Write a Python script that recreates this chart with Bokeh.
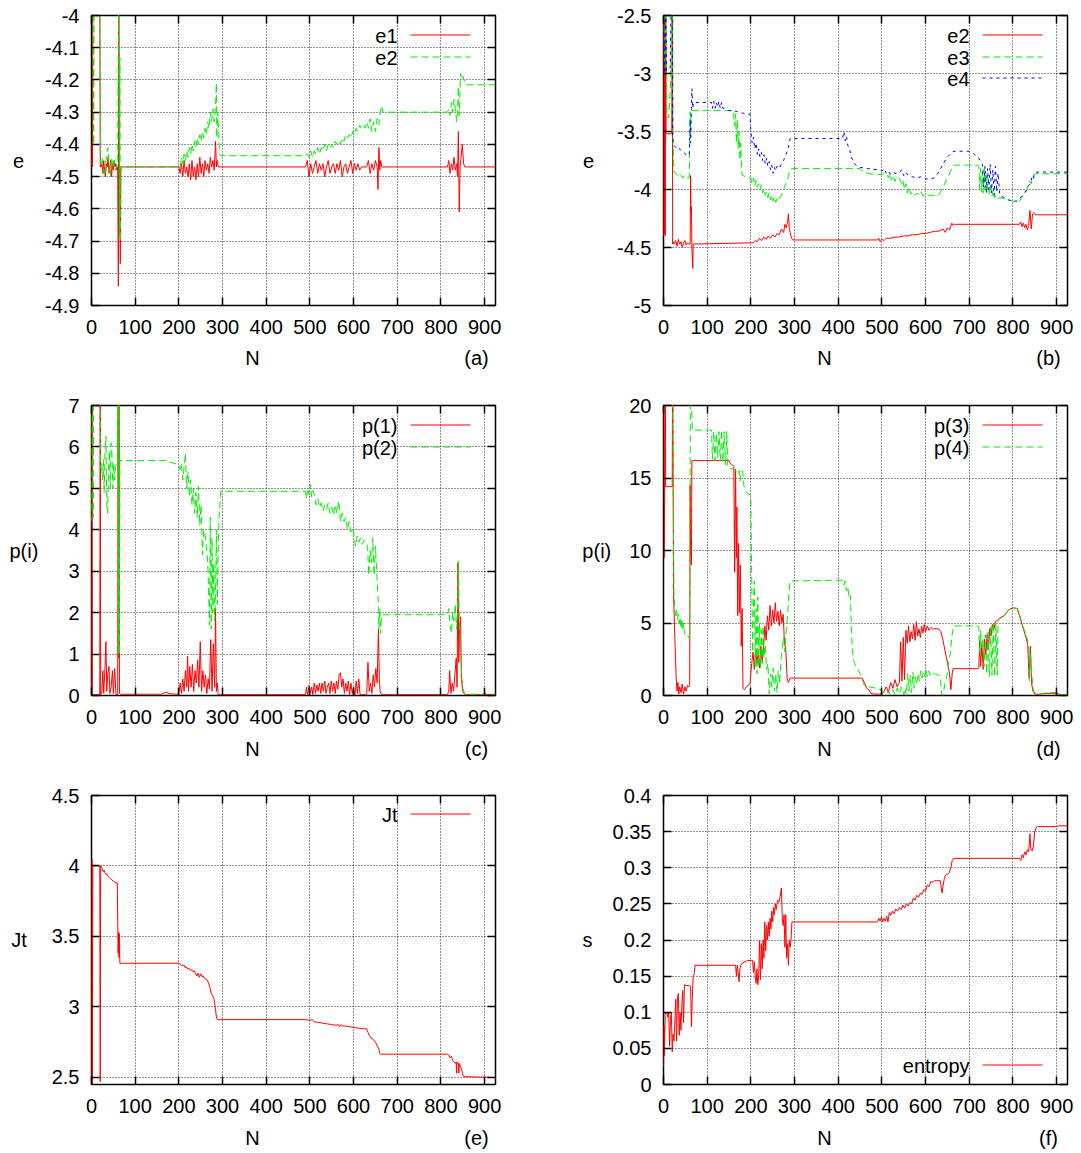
from bokeh.plotting import figure
from bokeh.layouts import column, row
from bokeh.models import Range1d, FixedTicker, PrintfTickFormatter, LinearAxis, Label, Arrow
from bokeh.embed import file_html
from bokeh.resources import INLINE

# ---------------- data ----------------
X_TICKS = [0, 100, 200, 300, 400, 500, 600, 700, 800, 900]
A_TICKS = [-4.9, -4.8, -4.7, -4.6, -4.5, -4.4, -4.3, -4.2, -4.1, -4.0]
B_TICKS = [-5.0, -4.5, -4.0, -3.5, -3.0, -2.5]
C_TICKS = [0, 1, 2, 3, 4, 5, 6, 7]
D_TICKS = [0, 5, 10, 15, 20]
E_TICKS = [2.5, 3.0, 3.5, 4.0, 4.5]
F_TICKS = [0, 0.05, 0.1, 0.15, 0.2, 0.25, 0.3, 0.35, 0.4]

# (a) e1
a_e1_x = [0, 1, 2, 3, 19, 20, 22, 24, 26, 28, 30, 32, 34, 36, 38, 40, 42, 44, 46, 48, 50, 52, 54, 56, 58,
          60, 61.5, 62.5, 64, 66, 67, 200, 203, 206, 209, 212, 215, 218, 221, 224, 227, 230, 233, 236, 239,
          242, 245, 248, 251, 254, 257, 260, 263, 266, 269, 272, 275, 278, 281, 284, 286, 288, 290, 293,
          490, 494, 498, 502, 506, 510, 514, 518, 522, 526, 530, 534, 538, 542, 546, 550, 554, 558, 562,
          566, 570, 574, 578, 582, 586, 590, 594, 598, 602, 606, 610, 614, 618, 630, 634, 638, 642, 646,
          650, 654, 656, 658, 660, 662, 665, 815, 818, 821, 824, 827, 830, 833, 836, 838, 840, 842, 844,
          846, 849, 852, 855, 860, 925]
a_e1_y = [-4.47, -4.39, -4.47, -3.9, -3.9, -4.47, -4.47, -4.46, -4.49, -4.45, -4.48, -4.5, -4.46, -4.47,
          -4.44, -4.49, -4.47, -4.45, -4.5, -4.46, -4.48, -4.45, -4.47, -4.46, -4.48,
          -4.47, -4.84, -3.9, -4.47, -4.77, -4.47, -4.47, -4.49, -4.46, -4.5, -4.45, -4.49, -4.47, -4.5,
          -4.46, -4.51, -4.45, -4.5, -4.47, -4.51, -4.46, -4.5, -4.44, -4.49, -4.46, -4.5, -4.45, -4.48,
          -4.46, -4.49, -4.44, -4.47, -4.45, -4.48, -4.39, -4.47, -4.45, -4.47, -4.47,
          -4.47, -4.45, -4.5, -4.46, -4.49, -4.47, -4.45, -4.49, -4.46, -4.48, -4.46, -4.5, -4.47, -4.45,
          -4.49, -4.47, -4.46, -4.49, -4.46, -4.48, -4.45, -4.5, -4.47, -4.46, -4.49, -4.47, -4.45, -4.49,
          -4.46, -4.48, -4.46, -4.48, -4.47, -4.47, -4.45, -4.49, -4.46, -4.48, -4.45, -4.47, -4.54, -4.41,
          -4.48, -4.45, -4.47, -4.47, -4.45, -4.49, -4.46, -4.48, -4.44, -4.48, -4.46, -4.5, -4.36, -4.61,
          -4.47, -4.44, -4.4, -4.46, -4.47, -4.47, -4.47]
# (a) e2
a_e2_x = [0, 4, 5, 6, 19, 21, 24, 27, 30, 33, 36, 38, 40, 43, 46, 49, 52, 55, 58, 60, 62, 64, 65, 66, 68,
          190, 200, 203, 206, 209, 212, 215, 218, 221, 224, 227, 230, 233, 236, 239, 242, 245, 248, 251,
          254, 257, 260, 263, 266, 269, 272, 275, 278, 281, 284, 286, 287, 289, 291, 293, 296, 490, 494,
          498, 502, 506, 510, 514, 518, 522, 526, 530, 534, 538, 542, 546, 550, 554, 558, 562, 566, 570,
          574, 578, 582, 586, 590, 594, 598, 602, 606, 610, 614, 618, 622, 626, 630, 634, 638, 642, 646,
          650, 654, 658, 661, 664, 667, 815, 818, 821, 824, 827, 830, 833, 836, 838, 840, 842, 845, 848,
          851, 855, 858, 925]
a_e2_y = [-3.9, -3.9, -4.4, -3.9, -3.9, -4.46, -4.44, -4.48, -4.5, -4.45, -4.42, -4.41, -4.46, -4.5, -4.44,
          -4.47, -4.45, -4.48, -4.47, -4.45, -3.9, -4.68, -4.13, -4.7, -4.47,
          -4.47, -4.465, -4.47, -4.44, -4.46, -4.43, -4.45, -4.42, -4.44, -4.41, -4.43, -4.4, -4.42, -4.39,
          -4.41, -4.38, -4.4, -4.37, -4.39, -4.36, -4.38, -4.35, -4.37, -4.33, -4.35, -4.3, -4.33, -4.29,
          -4.33, -4.28, -4.21, -4.38, -4.3, -4.36, -4.43, -4.435, -4.435, -4.43,
          -4.44, -4.42, -4.44, -4.42, -4.43, -4.41, -4.43, -4.41, -4.42, -4.4, -4.42, -4.4, -4.41, -4.4,
          -4.41, -4.39, -4.4, -4.39, -4.4, -4.38, -4.39, -4.37, -4.38, -4.37, -4.38, -4.36, -4.37, -4.35,
          -4.36, -4.34, -4.35, -4.34, -4.35, -4.33, -4.35, -4.32, -4.36, -4.33, -4.36, -4.32, -4.34, -4.3,
          -4.28, -4.3, -4.3, -4.29, -4.31, -4.27, -4.3, -4.26, -4.29, -4.33, -4.3, -4.22, -4.31, -4.18,
          -4.2, -4.19, -4.21, -4.215, -4.215]

# (b) e2
b_e2_x = [0, 1, 2, 3, 4, 5, 6, 19, 20, 21, 22, 25, 28, 31, 34, 37, 40, 43, 46, 49, 52, 55, 58, 61, 62, 63,
          64, 65, 67, 68, 200, 205, 210, 215, 220, 225, 230, 235, 240, 245, 250, 255, 260, 265, 270, 275,
          278, 281, 284, 286, 288, 290, 293, 296, 490, 493, 496, 500, 505, 510, 520, 530, 540, 550, 560,
          570, 580, 590, 600, 610, 620, 630, 635, 640, 645, 650, 655, 660, 663, 666, 815, 818, 821, 824,
          827, 830, 833, 836, 839, 842, 845, 848, 852, 855, 925]
b_e2_y = [-4.4, -2.3, -4.38, -2.3, -4.4, -2.3, -3.52, -3.52, -2.3, -4.47, -4.45, -4.47, -4.44, -4.49,
          -4.43, -4.47, -4.45, -4.5, -4.46, -4.44, -4.48, -4.46, -4.47, -4.47, -3.88, -4.2, -4.15, -4.5,
          -4.68, -4.47, -4.46, -4.46, -4.44, -4.45, -4.42, -4.44, -4.41, -4.43, -4.4, -4.42, -4.39, -4.41,
          -4.38, -4.39, -4.34, -4.37, -4.3, -4.33, -4.28, -4.21, -4.33, -4.37, -4.42, -4.435, -4.435,
          -4.42, -4.45, -4.43, -4.44, -4.42, -4.42, -4.41, -4.41, -4.4, -4.4, -4.39, -4.39, -4.38, -4.38,
          -4.37, -4.36, -4.36, -4.35, -4.34, -4.37, -4.33, -4.35, -4.29, -4.31, -4.3, -4.3, -4.28, -4.32,
          -4.29, -4.33, -4.3, -4.35, -4.31, -4.18, -4.34, -4.21, -4.2, -4.22, -4.218, -4.218]
# (b) e3
b_e3_x = [0, 3, 5, 8, 12, 16, 19, 21, 22, 24, 28, 32, 36, 40, 44, 48, 52, 56, 59, 60, 61, 62, 63, 65, 160,
          163, 165, 167, 169, 171, 173, 175, 177, 179, 181, 200, 203, 206, 209, 212, 215, 218, 221, 224,
          227, 230, 233, 236, 239, 242, 245, 248, 251, 254, 257, 260, 263, 266, 270, 275, 280, 285, 290,
          293, 450, 455, 460, 470, 480, 500, 510, 515, 518, 522, 526, 530, 535, 540, 545, 548, 552, 555,
          558, 562, 566, 570, 575, 580, 585, 590, 595, 600, 605, 630, 640, 650, 660, 665, 720, 722, 724,
          726, 728, 730, 732, 734, 736, 738, 740, 743, 746, 749, 752, 755, 758, 762, 766, 770, 780, 790,
          800, 810, 815, 820, 825, 830, 835, 838, 842, 845, 848, 852, 925]
b_e3_y = [-2.3, -3.0, -2.3, -3.38, -3.38, -3.1, -2.3, -2.3, -3.6, -3.85, -3.86, -3.88, -3.86, -3.88, -3.9,
          -3.88, -3.9, -3.9, -3.9, -3.6, -3.33, -3.55, -3.32, -3.32, -3.32,
          -3.45, -3.35, -3.6, -3.4, -3.65, -3.5, -3.75, -3.6, -3.85, -3.88, -3.9, -3.95, -3.9, -3.97, -3.92,
          -3.98, -3.95, -4.0, -3.96, -4.03, -3.99, -4.05, -4.02, -4.07, -4.03, -4.09, -4.05, -4.1, -4.06,
          -4.11, -4.08, -4.1, -4.07, -4.05, -4.0, -3.95, -3.9, -3.83,
          -3.82, -3.82, -3.84, -3.85, -3.86, -3.87, -3.87, -3.86, -3.9, -3.86, -3.92, -3.88, -3.93, -3.89,
          -3.9, -3.95, -3.92, -4.0, -3.95, -4.03, -3.98, -4.04, -4.02, -4.05, -4.03, -4.05, -4.02, -4.06,
          -4.04, -4.05, -4.05, -3.98, -3.9, -3.82, -3.79, -3.79, -3.8, -4.0, -3.82, -4.02, -3.85, -4.03,
          -3.82, -4.0, -3.86, -4.04, -3.9, -4.05, -3.95, -4.06, -4.0, -4.07, -4.05, -4.08, -4.07, -4.08,
          -4.09, -4.1, -4.11, -4.1, -4.07, -4.05, -4.02, -3.97, -3.93, -3.95, -3.9, -3.87, -3.865, -3.865]
# (b) e4
b_e4_x = [0, 3, 5, 7, 15, 18, 20, 21, 23, 27, 31, 35, 39, 43, 47, 51, 55, 59, 61, 62, 64, 65, 67, 69, 110,
          112, 115, 118, 121, 124, 127, 130, 133, 136, 140, 150, 160, 170, 180, 190, 198, 200, 203, 206,
          209, 212, 215, 218, 221, 224, 227, 230, 233, 236, 239, 242, 245, 248, 251, 254, 257, 260, 265,
          270, 275, 280, 285, 290, 410, 413, 416, 419, 422, 426, 430, 435, 440, 450, 470, 490, 500, 505,
          510, 515, 520, 525, 530, 540, 545, 550, 555, 560, 570, 580, 590, 600, 610, 620, 630, 640, 650,
          660, 665, 700, 710, 720, 725, 730, 733, 736, 739, 742, 745, 748, 751, 754, 757, 760, 763, 766,
          770, 780, 790, 800, 810, 820, 830, 835, 840, 843, 846, 850, 855, 925]
b_e4_y = [-2.3, -3.0, -2.3, -3.0, -3.0, -2.3, -2.3, -3.55, -3.62, -3.63, -3.65, -3.64, -3.66, -3.67, -3.68,
          -3.7, -3.69, -3.7, -3.4, -3.6, -3.3, -3.13, -3.3, -3.25, -3.25,
          -3.3, -3.24, -3.3, -3.25, -3.29, -3.24, -3.3, -3.25, -3.3, -3.3, -3.32, -3.32, -3.33, -3.34,
          -3.35, -3.35, -3.5, -3.6, -3.55, -3.65, -3.6, -3.7, -3.65, -3.72, -3.68, -3.75, -3.7, -3.78,
          -3.73, -3.8, -3.76, -3.83, -3.79, -3.86, -3.81, -3.84, -3.8, -3.82, -3.78, -3.75, -3.7, -3.65,
          -3.56, -3.56, -3.5, -3.58, -3.54, -3.62, -3.65, -3.72, -3.76, -3.79, -3.81, -3.82, -3.83, -3.84,
          -3.82, -3.86, -3.84, -3.87, -3.85, -3.86, -3.86, -3.83, -3.88, -3.85, -3.88, -3.89, -3.9, -3.89,
          -3.91, -3.91, -3.9, -3.85, -3.78, -3.72, -3.68, -3.67, -3.67, -3.69, -3.72, -3.75, -3.78, -3.98,
          -3.8, -4.02, -3.82, -4.0, -3.78, -4.03, -3.83, -4.05, -3.8, -4.02, -3.86, -4.05, -4.07, -4.09,
          -4.1, -4.1, -4.06, -4.01, -3.97, -3.95, -3.9, -3.92, -3.86, -3.85, -3.85]

# (c) p(1)
c_p1_x = [0, 1, 2, 19, 20, 21, 24, 26, 28, 31, 33, 35, 37, 40, 42, 45, 48, 50, 53, 56, 60, 61, 62, 63, 64,
          66, 160, 170, 180, 200, 203, 206, 209, 212, 215, 218, 220, 222, 225, 228, 231, 234, 237, 240,
          243, 246, 249, 252, 255, 258, 261, 264, 267, 270, 273, 276, 279, 282, 284, 286, 288, 290, 490,
          492, 495, 498, 501, 504, 507, 510, 513, 516, 519, 522, 525, 528, 531, 534, 537, 540, 543, 546,
          549, 552, 555, 558, 561, 564, 567, 570, 573, 576, 579, 582, 585, 588, 591, 594, 597, 600, 603,
          606, 609, 612, 615, 630, 633, 636, 639, 642, 645, 648, 651, 654, 657, 659, 661, 664, 815, 818,
          820, 823, 826, 829, 832, 835, 837, 839, 841, 843, 845, 847, 850, 855, 895, 900, 905, 925]
c_p1_y = [0, 8, 0.02, 0.02, 8, 0.02, 0.1, 0.6, 0.05, 0.7, 1.3, 0.1, 0.5, 0.7, 0.05, 0.2, 0.6, 0.05, 0.65,
          0.02, 0.02, 8, 0.9, 8, 0.05, 0.03, 0.03, 0.08, 0.04, 0.03, 0.3, 0.05, 0.4, 0.1, 0.6, 0.2, 0.95,
          0.1, 0.7, 0.2, 0.75, 0.1, 0.6, 0.3, 0.85, 0.2, 1.3, 0.1, 0.6, 0.2, 0.5, 0.05, 0.4, 0.15, 1.35,
          0.1, 1.25, 0.2, 2.1, 0.1, 0.3, 0.02, 0.02, 0.2, 0.02, 0.25, 0.05, 0.2, 0.02, 0.3, 0.05, 0.25,
          0.1, 0.3, 0.05, 0.3, 0.1, 0.35, 0.05, 0.2, 0.3, 0.05, 0.35, 0.1, 0.3, 0.05, 0.35, 0.15, 0.5,
          0.55, 0.2, 0.4, 0.05, 0.3, 0.1, 0.35, 0.02, 0.3, 0.05, 0.2, 0.0, 0.35, 0.05, 0.4, 0.02, 0.02,
          0.8, 0.1, 0.3, 0.05, 0.5, 0.2, 0.65, 0.3, 1.6, 0.4, 0.1, 0.02, 0.02, 0.1, 0.6, 0.05, 0.3, 0.1,
          0.5, 0.9, 0.2, 3.2, 0.8, 1.6, 1.9, 0.4, 0.1, 0.02, 0.02, 0.05, 0.02, 0.02]
# (c) p(2)
c_p2_x = [0, 1, 3, 4, 5, 19, 21, 23, 25, 27, 29, 31, 33, 35, 37, 39, 41, 43, 45, 47, 49, 51, 53, 55, 57,
          59, 61, 62, 63, 64, 65, 170, 175, 180, 190, 200, 203, 206, 209, 212, 215, 218, 221, 224, 227,
          230, 233, 236, 239, 242, 245, 248, 251, 254, 257, 260, 263, 266, 268, 270, 272, 274, 276, 278,
          280, 282, 284, 286, 288, 290, 292, 294, 296, 490, 492, 495, 498, 501, 504, 507, 510, 514, 518,
          522, 526, 530, 534, 538, 542, 546, 550, 554, 558, 562, 566, 570, 574, 578, 582, 586, 590, 594,
          598, 602, 605, 608, 612, 616, 620, 624, 628, 632, 635, 638, 641, 644, 647, 650, 653, 656, 658,
          660, 662, 664, 815, 818, 821, 824, 827, 830, 833, 836, 838, 840, 842, 845, 848, 851, 855, 895,
          900, 905, 925]
c_p2_y = [4.2, 8, 8, 4.3, 8, 8, 5.5, 5.6, 5.2, 5.7, 4.9, 5.9, 6.25, 4.6, 4.4, 5.5, 5.9, 5.0, 6.1, 5.8,
          5.0, 5.6, 5.2, 5.5, 5.6, 5.7, 8, 1.0, 8, 1.0, 5.67, 5.67, 5.68, 5.63, 5.6, 5.57, 5.45, 5.6, 5.2,
          5.5, 5.85, 5.0, 5.4, 4.8, 5.2, 4.6, 5.0, 4.4, 4.9, 4.3, 5.05, 4.1, 4.6, 3.4, 4.0, 3.9, 3.6, 3.2,
          2.6, 1.7, 4.3, 1.6, 3.8, 2.0, 3.2, 1.8, 2.5, 4.0, 2.2, 3.5, 4.3, 4.6, 4.93, 4.93, 4.75, 5.0,
          4.85, 5.1, 4.8, 4.95, 4.85, 4.6, 4.75, 4.55, 4.65, 4.45, 4.6, 4.5, 4.65, 4.4, 4.55, 4.35, 4.6,
          4.4, 4.7, 4.2, 4.4, 4.2, 4.3, 4.0, 4.2, 3.95, 4.05, 3.8, 3.6, 3.85, 3.7, 3.8, 3.65, 3.75, 3.7,
          3.6, 2.9, 3.5, 3.2, 3.8, 2.9, 3.6, 3.0, 2.4, 1.6, 2.1, 1.5, 1.95, 1.95, 2.1, 1.7, 1.5, 2.0, 1.8,
          2.2, 1.6, 2.0, 3.25, 1.9, 1.2, 0.4, 0.15, 0.03, 0.03, 0.07, 0.03, 0.03]

# (d) p(3)
d_p3_x = [0, 2, 4, 5, 20, 21, 23, 25, 27, 29, 31, 33, 35, 37, 40, 43, 46, 49, 52, 55, 58, 60, 61, 62, 64,
          65, 150, 153, 158, 161, 163, 165, 167, 168, 170, 172, 174, 176, 178, 180, 182, 185, 190, 198,
          202, 205, 208, 211, 214, 217, 220, 223, 226, 229, 232, 235, 238, 241, 244, 247, 250, 253, 256,
          259, 262, 265, 268, 271, 274, 277, 280, 283, 286, 290, 455, 460, 465, 470, 475, 480, 500, 505,
          510, 515, 520, 525, 530, 535, 540, 543, 546, 549, 552, 555, 558, 561, 564, 567, 570, 573, 576,
          579, 582, 585, 588, 591, 594, 597, 600, 604, 608, 612, 616, 630, 635, 640, 645, 650, 655, 658,
          661, 663, 720, 722, 724, 726, 729, 732, 735, 738, 741, 744, 747, 750, 753, 756, 760, 765, 770,
          780, 790, 800, 810, 815, 820, 825, 830, 834, 837, 840, 843, 846, 850, 860, 870, 880, 890, 900,
          910, 925]
d_p3_y = [25, 9.5, 25, 14.4, 14.4, 25, 7.0, 5.0, 3.0, 1.2, 0.3, 0.9, 0.1, 0.6, 0.2, 0.8, 0.1, 0.6, 0.3,
          0.7, 0.6, 0.7, 14.5, 10, 9.0, 16.2, 16.2, 16.0, 15.9, 15.8, 8.5, 15.6, 9.5, 13, 5.5, 10.5, 5.7,
          9.0, 3.4, 6.0, 0.5, 0.4, 0.6, 0.8, 2.2, 3.0, 1.8, 3.2, 2.2, 3.0, 1.9, 3.4, 2.3, 3.2, 4.8, 3.8,
          5.5, 4.5, 6.2, 4.8, 5.9, 5.0, 6.4, 5.1, 5.8, 4.8, 5.9, 5.0, 5.6, 3.6, 3.2, 1.2, 0.9, 1.2, 1.2,
          0.9, 0.5, 0.4, 0.15, 0.1, 0.1, 0.3, 0.6, 0.2, 0.9, 0.5, 1.1, 0.6, 0.9, 3.7, 1.0, 4.0, 1.1, 4.5,
          3.6, 4.8, 3.7, 4.4, 3.9, 4.9, 3.8, 5.1, 4.1, 4.6, 4.0, 4.8, 4.3, 4.9, 4.4, 4.8, 4.5, 4.7, 4.6,
          4.6, 4.4, 3.8, 3.0, 2.3, 1.5, 0.4, 1.5, 1.85, 1.85, 1.9, 3.8, 2.0, 3.5, 1.8, 3.9, 2.8, 4.2, 3.2,
          4.6, 4.1, 4.9, 4.5, 5.1, 5.2, 5.35, 5.5, 5.9, 6.05, 6.0, 5.5, 5.0, 4.5, 4.0, 3.5, 1.2, 3.4, 0.8,
          0.3, 0.1, 0.08, 0.12, 0.15, 0.15, 0.15, 0.04, 0.04]
# (d) p(4)
d_p4_x = [0, 20, 22, 24, 26, 28, 30, 32, 34, 36, 38, 40, 42, 44, 46, 48, 50, 53, 56, 58, 60, 62, 64, 66,
          110, 112, 115, 118, 121, 124, 127, 130, 133, 136, 139, 142, 145, 147, 150, 160, 165, 170, 173,
          175, 178, 181, 184, 187, 190, 200, 202, 204, 206, 208, 210, 212, 214, 216, 218, 220, 222, 224,
          226, 228, 230, 233, 236, 239, 242, 245, 248, 251, 254, 257, 260, 263, 266, 269, 272, 275, 278,
          281, 284, 287, 290, 410, 413, 416, 419, 422, 425, 428, 431, 434, 437, 440, 445, 450, 455, 460,
          465, 470, 480, 490, 500, 505, 510, 515, 520, 525, 530, 535, 540, 545, 550, 553, 556, 559, 562,
          565, 568, 571, 574, 577, 580, 583, 586, 589, 592, 595, 598, 601, 604, 607, 610, 615, 620, 625,
          630, 634, 637, 640, 644, 648, 652, 656, 660, 664, 720, 722, 724, 726, 728, 731, 734, 737, 740,
          743, 746, 749, 752, 755, 758, 761, 764, 766, 770, 780, 790, 800, 810, 815, 820, 825, 830, 833,
          836, 838, 840, 843, 846, 850, 860, 870, 880, 890, 900, 910, 925]
d_p4_y = [25, 25, 14.0, 7.0, 6.0, 5.5, 5.9, 5.2, 5.6, 5.0, 5.4, 4.6, 5.3, 4.5, 5.0, 4.3, 4.2, 4.0, 4.1,
          4.0, 4.2, 25, 20.5, 18.3, 18.3, 16.3, 18.2, 16.2, 18.1, 16.4, 18.2, 16.2, 18.3, 16.1, 18.2,
          15.9, 18.2, 15.8, 15.7, 15.6, 15.5, 15.3, 15.5, 14.8, 15.4, 15.5, 14.5, 14.1, 14.0, 13.8, 8.0,
          3.0, 6.5, 7.9, 2.0, 6.0, 1.5, 6.8, 2.0, 5.0, 1.8, 4.5, 2.2, 4.8, 2.6, 3.5, 1.8, 2.2, 0.1, 1.5,
          0.6, 1.9, 0.3, 1.5, 0.2, 1.7, 0.8, 2.5, 3.3, 4.0, 3.0, 4.5, 5.5, 7.0, 7.9, 7.95, 7.6, 7.9, 7.2,
          7.5, 6.7, 6.9, 4.0, 2.5, 2.3, 2.0, 1.8, 1.5, 1.1, 0.7, 0.6, 0.6, 0.55, 0.45, 0.35, 0.2, 0.05,
          0.3, 0.02, 0.4, 0.05, 0.5, 0.1, 0.6, 0.05, 0.5, 0.0, 1.5, 0.3, 1.4, 0.2, 1.6, 0.5, 1.3, 0.9,
          1.5, 1.0, 1.7, 1.2, 1.6, 1.3, 1.85, 1.3, 1.7, 1.4, 1.6, 1.5, 1.45, 1.4, 1.3, 0.1, 0.0, 0.8, 1.2,
          2.0, 2.8, 4.0, 4.8, 4.8, 4.6, 2.8, 4.5, 3.2, 4.0, 2.0, 4.2, 1.5, 4.5, 1.3, 4.8, 1.4, 5.0, 1.3,
          4.9, 1.4, 5.2, 5.3, 5.5, 5.9, 6.05, 6.0, 5.6, 5.0, 4.6, 4.2, 3.9, 3.2, 1.0, 3.0, 1.5, 0.5, 0.15,
          0.1, 0.15, 0.2, 0.2, 0.22, 0.05, 0.05]

# (e) Jt
e_jt_x = [0, 1, 2, 3, 19, 20, 21, 23, 25, 27, 29, 31, 33, 35, 37, 40, 43, 46, 50, 53, 56, 59, 60, 61, 62,
          63, 64, 65, 200, 205, 208, 211, 214, 217, 220, 223, 226, 229, 232, 235, 238, 241, 244, 247, 250,
          253, 256, 259, 262, 265, 268, 271, 274, 277, 280, 282, 284, 286, 288, 490, 500, 505, 510, 520,
          530, 540, 550, 560, 565, 568, 571, 575, 580, 590, 600, 610, 620, 630, 633, 636, 640, 645, 650,
          655, 658, 660, 662, 815, 818, 821, 824, 827, 830, 833, 835, 836, 837, 840, 841, 842, 845, 848,
          851, 855, 925]
e_jt_y = [2.45, 4.05, 2.45, 4.0, 4.0, 2.47, 4.0, 3.99, 3.98, 3.96, 3.97, 3.95, 3.94, 3.945, 3.93, 3.92,
          3.91, 3.905, 3.89, 3.885, 3.88, 3.88, 3.6, 3.38, 3.53, 3.35, 3.52, 3.31, 3.31, 3.3, 3.29, 3.3,
          3.28, 3.285, 3.27, 3.275, 3.26, 3.265, 3.25, 3.255, 3.24, 3.22, 3.24, 3.21, 3.235, 3.215, 3.22,
          3.2, 3.2, 3.19, 3.17, 3.14, 3.1, 3.08, 3.06, 3.03, 2.98, 2.93, 2.91, 2.91, 2.905, 2.91, 2.895,
          2.89, 2.885, 2.88, 2.875, 2.87, 2.875, 2.86, 2.875, 2.865, 2.865, 2.86, 2.855, 2.85, 2.845,
          2.845, 2.82, 2.8, 2.78, 2.77, 2.75, 2.72, 2.7, 2.67, 2.665, 2.665, 2.66, 2.64, 2.65, 2.62, 2.61,
          2.6, 2.61, 2.53, 2.61, 2.6, 2.53, 2.6, 2.58, 2.55, 2.51, 2.505, 2.5]

# (f) entropy
f_s_x = [0, 1, 2, 3, 4, 6, 8, 10, 12, 14, 16, 18, 20, 22, 24, 26, 28, 30, 32, 34, 36, 38, 40, 42, 44, 46,
         48, 52, 58, 62, 64, 66, 68, 70, 72, 165, 167, 169, 171, 173, 175, 177, 180, 190, 200, 204, 206,
         208, 210, 212, 214, 216, 218, 220, 222, 224, 226, 228, 230, 232, 234, 236, 238, 240, 242, 244,
         246, 248, 250, 252, 254, 256, 258, 261, 264, 267, 270, 272, 274, 276, 278, 280, 282, 284, 286,
         288, 290, 292, 294, 490, 493, 496, 499, 502, 505, 508, 511, 514, 517, 520, 524, 528, 532, 536,
         540, 544, 548, 552, 556, 560, 564, 568, 572, 576, 580, 584, 588, 592, 596, 600, 604, 608, 612,
         616, 620, 634, 636, 638, 640, 643, 646, 650, 654, 658, 661, 664, 815, 818, 821, 824, 827, 830,
         833, 836, 839, 841, 844, 847, 850, 853, 856, 900, 905, 925]
f_s_y = [0.024, 0.082, 0.04, 0.07, 0.1, 0.098, 0.1, 0.093, 0.1, 0.053, 0.09, 0.1, 0.045, 0.07, 0.06,
         0.088, 0.118, 0.06, 0.12, 0.126, 0.068, 0.1, 0.075, 0.11, 0.13, 0.085, 0.138, 0.137, 0.137,
         0.136, 0.08, 0.12, 0.15, 0.152, 0.165, 0.165, 0.15, 0.165, 0.155, 0.142, 0.16, 0.165, 0.168,
         0.171, 0.172, 0.172, 0.155, 0.17, 0.15, 0.14, 0.16, 0.138, 0.15, 0.2, 0.145, 0.195, 0.16, 0.2,
         0.175, 0.225, 0.185, 0.22, 0.2, 0.225, 0.205, 0.23, 0.215, 0.24, 0.225, 0.245, 0.235, 0.25,
         0.242, 0.255, 0.252, 0.26, 0.272, 0.23, 0.22, 0.235, 0.19, 0.235, 0.175, 0.195, 0.165, 0.2,
         0.19, 0.2, 0.225, 0.225, 0.23, 0.226, 0.232, 0.225, 0.23, 0.226, 0.233, 0.225, 0.238, 0.234,
         0.24, 0.236, 0.243, 0.24, 0.245, 0.242, 0.248, 0.244, 0.25, 0.247, 0.252, 0.25, 0.258, 0.255,
         0.262, 0.259, 0.265, 0.263, 0.27, 0.268, 0.276, 0.274, 0.281, 0.28, 0.282, 0.282, 0.272, 0.265,
         0.275, 0.285, 0.29, 0.291, 0.293, 0.3, 0.31, 0.313, 0.313, 0.31, 0.318, 0.314, 0.322, 0.318,
         0.325, 0.322, 0.347, 0.326, 0.323, 0.33, 0.35, 0.355, 0.357, 0.357, 0.358, 0.358]

# ---------------- styling ----------------
FONT = "Liberation Sans"
FS = "20px"
RED, GREEN, BLUE = "#ff0000", "#00ee00", "#0000ff"
DASH_G, DASH_B = "7 4", "3 4"
FW = 404
LEFT = 91
BOTTOM = 40


def make_panel(yr, yticks, ylabel, ylab_standoff, series, legend, right_border, top_border, fh,
               legend_bottom=False):
    p = figure(width=LEFT + FW + right_border, height=top_border + fh + BOTTOM,
               x_range=Range1d(0, 925), y_range=Range1d(*yr),
               output_backend="svg", toolbar_location=None,
               min_border_left=LEFT, min_border_right=right_border,
               min_border_top=top_border, min_border_bottom=BOTTOM)
    p.background_fill_color = "white"
    p.border_fill_color = "white"
    p.outline_line_color = "black"
    p.outline_line_width = 1.5
    p.xaxis.ticker = FixedTicker(ticks=X_TICKS)
    p.yaxis.ticker = FixedTicker(ticks=yticks)
    p.yaxis.formatter = PrintfTickFormatter(format="%g")
    for ax in (p.xaxis[0], p.yaxis[0]):
        ax.axis_line_color = None
        ax.major_tick_in = 8
        ax.major_tick_out = 0
        ax.major_tick_line_color = "black"
        ax.major_tick_line_width = 1.5
        ax.minor_tick_in = 0
        ax.minor_tick_out = 0
        ax.major_label_text_font = FONT
        ax.major_label_text_font_size = FS
        ax.major_label_text_color = "black"
    p.xaxis.major_label_standoff = 14
    p.yaxis.major_label_standoff = 12
    p.yaxis.axis_label = ylabel
    p.yaxis.axis_label_orientation = "horizontal"
    p.yaxis.axis_label_standoff = ylab_standoff
    p.yaxis.axis_label_text_font = FONT
    p.yaxis.axis_label_text_font_size = FS
    p.yaxis.axis_label_text_font_style = "normal"
    p.yaxis.axis_label_text_color = "black"
    for loc, tk in (("right", yticks), ("above", X_TICKS)):
        ax = LinearAxis(ticker=FixedTicker(ticks=tk), major_label_text_color=None,
                        major_label_text_font_size="1px",
                        major_tick_in=8, major_tick_out=0, minor_tick_in=0, minor_tick_out=0,
                        major_tick_line_width=1.5, axis_line_color=None, major_label_standoff=0)
        p.add_layout(ax, loc)
    p.grid.grid_line_color = "black"
    p.grid.grid_line_dash = "1 2"
    p.grid.grid_line_alpha = 0.85
    p.xgrid.ticker = FixedTicker(ticks=X_TICKS)
    p.ygrid.ticker = FixedTicker(ticks=yticks)

    for xs, ys, col, dash in series:
        p.line(xs, ys, line_color=col, line_dash=dash, line_width=1)

    ys0 = [270, 248, 227] if not legend_bottom else [19]
    for (name, col, dash), yy in zip(legend, ys0):
        p.add_layout(Label(x=306, y=yy, text=name, x_units="screen", y_units="screen",
                           text_font=FONT, text_font_size=FS, text_color="black",
                           text_baseline="middle", text_align="right"))
        p.add_layout(Arrow(x_start=319, y_start=yy + 0.5, x_end=379, y_end=yy + 0.5,
                           start_units="screen", end_units="screen", start=None, end=None,
                           line_color=col, line_dash=dash, line_width=1.2))
    return p


def text_row(width, height, tag, ty):
    t = figure(width=width, height=height, x_range=Range1d(0, 1), y_range=Range1d(0, 1),
               x_axis_type=None, y_axis_type=None, output_backend="svg", toolbar_location=None,
               min_border=0)
    t.outline_line_color = None
    t.background_fill_color = "white"
    t.border_fill_color = "white"
    lab = dict(x_units="screen", y_units="screen", text_font=FONT, text_font_size=FS,
               text_color="black", text_baseline="middle", text_align="center")
    t.add_layout(Label(x=252, y=ty, text="N", **lab))
    t.add_layout(Label(x=476, y=ty, text=tag, **lab))
    return t


RB_L, RB_R = 77, 10
WL, WR = LEFT + FW + RB_L, LEFT + FW + RB_R

pa = make_panel((-4.9, -4.0), A_TICKS, "e", 18,
                [(a_e1_x, a_e1_y, RED, "solid"), (a_e2_x, a_e2_y, GREEN, DASH_G)],
                [("e1", RED, "solid"), ("e2", GREEN, DASH_G)], RB_L, 15, 290)
pb = make_panel((-5.0, -2.5), B_TICKS, "e", 20,
                [(b_e2_x, b_e2_y, RED, "solid"), (b_e3_x, b_e3_y, GREEN, DASH_G),
                 (b_e4_x, b_e4_y, BLUE, DASH_B)],
                [("e2", RED, "solid"), ("e3", GREEN, DASH_G), ("e4", BLUE, DASH_B)], RB_R, 15, 290)
pc = make_panel((0, 7), C_TICKS, "p(i)", 27,
                [(c_p1_x, c_p1_y, RED, "solid"), (c_p2_x, c_p2_y, GREEN, DASH_G)],
                [("p(1)", RED, "solid"), ("p(2)", GREEN, DASH_G)], RB_L, 20, 290)
pd = make_panel((0, 20), D_TICKS, "p(i)", 15,
                [(d_p3_x, d_p3_y, RED, "solid"), (d_p4_x, d_p4_y, GREEN, DASH_G)],
                [("p(3)", RED, "solid"), ("p(4)", GREEN, DASH_G)], RB_R, 20, 290)
pe = make_panel((2.45, 4.5), E_TICKS, "Jt", 22,
                [(e_jt_x, e_jt_y, RED, "solid")],
                [("Jt", RED, "solid")], RB_L, 20, 289)
pf = make_panel((0, 0.4), F_TICKS, "s", 17,
                [(f_s_x, f_s_y, RED, "solid")],
                [("entropy", RED, "solid")], RB_R, 20, 289, legend_bottom=True)

layout = column(
    row(pa, pb),
    row(text_row(WL, 40, "(a)", 28), text_row(WR, 40, "(b)", 28)),
    row(pc, pd),
    row(text_row(WL, 40, "(c)", 27), text_row(WR, 40, "(d)", 27)),
    row(pe, pf),
    row(text_row(WL, 26, "(e)", 13), text_row(WR, 26, "(f)", 13)),
)
open("out.html", "w").write(file_html(layout, INLINE))
